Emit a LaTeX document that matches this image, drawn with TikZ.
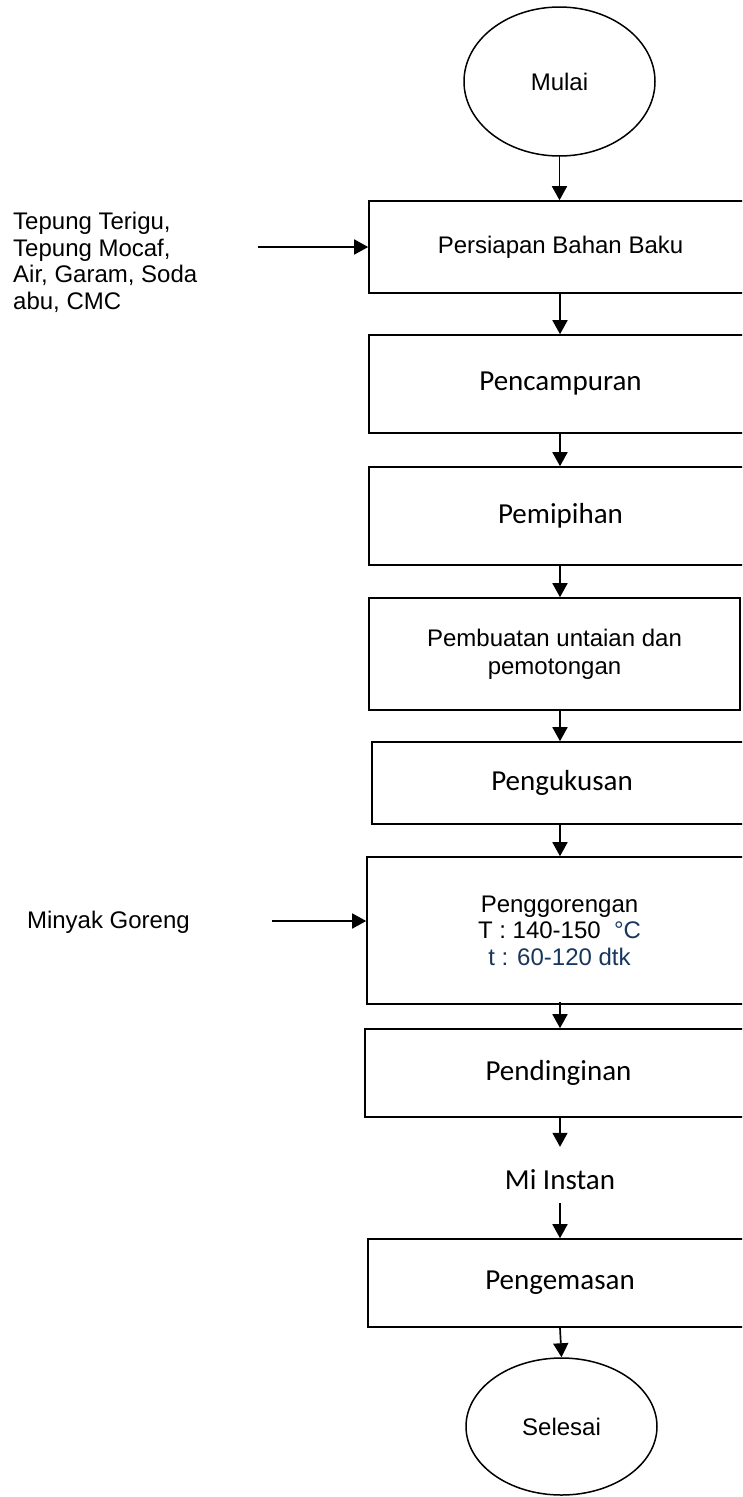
\documentclass[tikz,border=0pt]{standalone}
\usepackage{fontspec}
\newfontfamily\arialf{Liberation Sans}
\newfontfamily\calibrif{Carlito}
\usetikzlibrary{arrows.meta,shapes.geometric}
\definecolor{navy}{RGB}{23,54,93}
\tikzset{
  box/.style={draw, line width=1.6pt, rectangle, inner sep=0pt, align=center},
  oval/.style={draw, line width=1.5pt, ellipse, inner sep=0pt, align=center},
  arr/.style={-{Triangle[length=14pt,width=15pt]}, line width=1.7pt},
  arialtxt/.style={font=\arialf\fontsize{24}{26.5}\selectfont},
  caltxt/.style={font=\calibrif\fontsize{29}{34}\selectfont},
}
\begin{document}
\begin{tikzpicture}[x=1pt,y=-1pt]
\useasboundingbox (0,0) rectangle (742,1497);
\clip (0,0) rectangle (742,1497);
% start / end
\node[oval, arialtxt, minimum width=191pt, minimum height=149pt] (mulai) at (559.5,81.5) {Mulai};
\node[oval, arialtxt, minimum width=191pt, minimum height=137pt] (selesai) at (561.5,1426.5) {Selesai};
% process boxes
\node[box, arialtxt, minimum width=383pt, minimum height=92pt] (b1) at (560.5,247) {Persiapan Bahan Baku};
\node[box, caltxt, minimum width=383pt, minimum height=98pt] (b2) at (560.5,384) {Pencampuran};
\node[box, caltxt, minimum width=383pt, minimum height=98pt] (b3) at (560.5,516) {Pemipihan};
\node[box, font=\arialf\fontsize{24}{28}\selectfont, minimum width=371pt, minimum height=112pt] (b4) at (554.5,654) {Pembuatan untaian dan\\pemotongan};
\node[box, caltxt, minimum width=380pt, minimum height=82pt] (b5) at (562,783) {Pengukusan};
\node[box, font=\arialf\fontsize{24}{26.5}\selectfont, minimum width=385pt, minimum height=147pt] (b6) at (559.5,930.5) {Penggorengan\\T : 140-150\ \ \textcolor{navy}{°C}\\\textcolor{navy}{t : 60-120 dtk}};
\node[box, caltxt, minimum width=387pt, minimum height=88pt] (b7) at (558.5,1073) {Pendinginan};
\node[caltxt, inner sep=0pt, minimum height=58pt] (mi) at (560,1180) {Mi Instan};
\node[box, caltxt, minimum width=384pt, minimum height=88pt] (b8) at (560,1283) {Pengemasan};
% inputs
\node[arialtxt, align=left, inner sep=0pt, anchor=north west] (in1) at (13,212) {Tepung Terigu,\\Tepung Mocaf,\\Air, Garam, Soda\\abu, CMC};
\node[arialtxt, inner sep=0pt, anchor=east] (in2) at (190,922) {Minyak Goreng};
\coordinate (s1) at (258,247);
\coordinate (s2) at (272,921);
% connectors
\coordinate (col) at (560,0);
\draw[arr] (mulai.south) -- (mulai.south |- b1.north);
\draw[arr] (b1.south -| col) -- (b2.north -| col);
\draw[arr] (b2.south -| col) -- (b3.north -| col);
\draw[arr] (b3.south -| col) -- (b4.north -| col);
\draw[arr] (b4.south -| col) -- (b5.north -| col);
\draw[arr] (b5.south -| col) -- (b6.north -| col);
\draw[arr] ([yshift=3pt]b6.south -| col) -- (b7.north -| col);
\draw[arr] (b7.south -| col) -- ([yshift=4pt]mi.north);
\draw[arr] ([yshift=6pt]mi.south) -- (b8.north -| col);
\draw[arr] (b8.south -| col) -- (selesai.north);
\draw[arr] (s1) -- (s1 -| b1.west);
\draw[arr] (s2) -- (s2 -| b6.west);
\end{tikzpicture}
\end{document}
